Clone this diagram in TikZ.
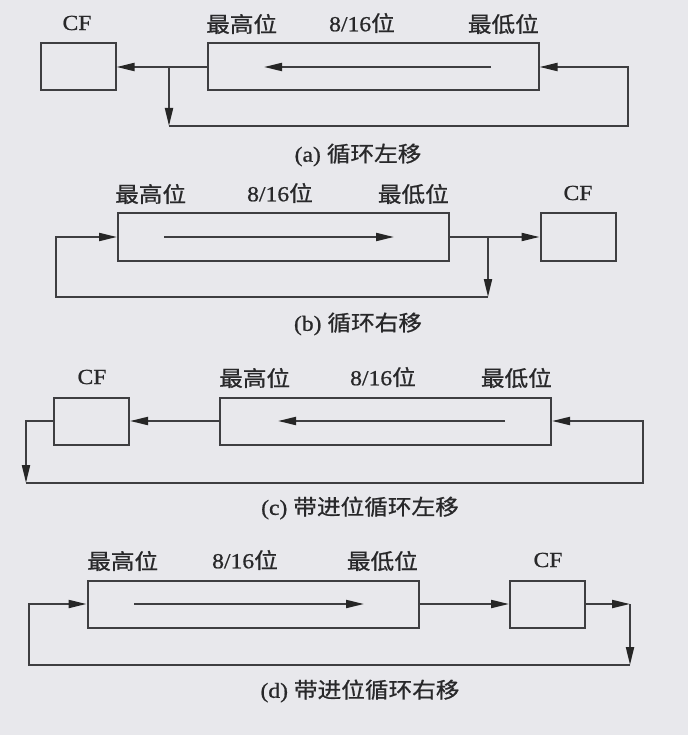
\documentclass[tikz,border=0pt]{standalone}
\usepackage{fontspec}
\setmainfont{Liberation Serif}[FakeStretch=1.1,FakeBold=0.8]
\newfontfamily\cjk{Noto Sans CJK SC}[FakeStretch=1.1,FakeBold=0.8]
\usetikzlibrary{arrows.meta}
\definecolor{bg}{RGB}{232,232,236}
\definecolor{ln}{RGB}{62,62,65}
\definecolor{tx}{RGB}{40,40,42}
\begin{document}
\begin{tikzpicture}[x=1pt,y=-1pt,
  reg/.style={draw=ln,line width=2pt,minimum width=331pt,minimum height=47pt,inner sep=0pt},
  cfbox/.style={draw=ln,line width=2pt,minimum width=75pt,minimum height=47pt,inner sep=0pt},
  lbl/.style={text=tx,font=\fontsize{21.5}{23}\selectfont,inner sep=0pt},
  captext/.style={text=tx,font=\fontsize{21.5}{23}\selectfont,inner sep=0pt},
  wire/.style={draw=ln,line width=2pt},
  arr/.style={wire,-{Triangle[length=18pt,width=8pt,color=black!85]}}]
\fill[bg] (0,0) rectangle (688,735);
\useasboundingbox (0,0) rectangle (688,735);

% ---------- (a)
\node[reg] (ma) at (373,67) {};
\node[cfbox] (cfa) at (78,67) {};
\node[lbl] (la1) at (77,23) {CF};
\node[lbl,anchor=west] (la2) at (206,24) {\cjk 最高位};
\node[lbl] (la3) at (362,23) {8/16{\cjk 位}};
\node[lbl,anchor=east] (la4) at (539,24) {\cjk 最低位};
\node[captext] (capa) at (358,155) {(a) {\cjk 循环左移}};
\coordinate (ia1) at (491,67); \coordinate (ia2) at (264,67);
\draw[arr] (ia1) -- (ia2);
\coordinate (ba) at (169,67); \coordinate (ba2) at (169,126); \coordinate (ra) at (628,126);
\draw[arr] (ma.west) -- (cfa.east);
\draw[arr] (ba) -- (ba2);
\draw[arr] (ba2) -- (ra) |- (ma.east);

% ---------- (b)
\node[reg] (mb) at (283.5,237) {};
\node[cfbox] (cfb) at (578,237) {};
\node[lbl] (lb1) at (578,193) {CF};
\node[lbl,anchor=west] (lb2) at (115,194) {\cjk 最高位};
\node[lbl] (lb3) at (280,193) {8/16{\cjk 位}};
\node[lbl,anchor=east] (lb4) at (449,194) {\cjk 最低位};
\node[captext] (capb) at (358,324) {(b) {\cjk 循环右移}};
\coordinate (ib1) at (164,237); \coordinate (ib2) at (394,237);
\draw[arr] (ib1) -- (ib2);
\coordinate (bb) at (488,237); \coordinate (bb2) at (488,297); \coordinate (lb) at (56,297);
\draw[arr] (mb.east) -- (cfb.west);
\draw[arr] (bb) -- (bb2);
\draw[arr] (bb2) -- (lb) |- (mb.west);

% ---------- (c)
\node[reg] (mc) at (385.5,421) {};
\node[cfbox] (cfc) at (91.5,421) {};
\node[lbl] (lc1) at (92,377) {CF};
\node[lbl,anchor=west] (lc2) at (219,378) {\cjk 最高位};
\node[lbl] (lc3) at (383,377) {8/16{\cjk 位}};
\node[lbl,anchor=east] (lc4) at (552,378) {\cjk 最低位};
\node[captext] (capc) at (360,508) {(c) {\cjk 带进位循环左移}};
\coordinate (ic1) at (505,421); \coordinate (ic2) at (278,421);
\draw[arr] (ic1) -- (ic2);
\coordinate (cc1) at (26,421); \coordinate (cc2) at (26,483); \coordinate (cc3) at (643,483);
\draw[arr] (mc.west) -- (cfc.east);
\draw[arr] (cfc.west) -- (cc1) -- (cc2);
\draw[arr] (cc2) -- (cc3) |- (mc.east);

% ---------- (d)
\node[reg] (md) at (253,604) {};
\node[cfbox] (cfd) at (547.5,604) {};
\node[lbl] (ld1) at (548,560) {CF};
\node[lbl,anchor=west] (ld2) at (87,561) {\cjk 最高位};
\node[lbl] (ld3) at (245,560) {8/16{\cjk 位}};
\node[lbl,anchor=east] (ld4) at (418,561) {\cjk 最低位};
\node[captext] (capd) at (360,691) {(d) {\cjk 带进位循环右移}};
\coordinate (id1) at (134,604); \coordinate (id2) at (364,604);
\draw[arr] (id1) -- (id2);
\coordinate (dd1) at (630,604); \coordinate (dd2) at (630,665); \coordinate (dd3) at (29,665);
\draw[arr] (md.east) -- (cfd.west);
\draw[arr] (cfd.east) -- (dd1);
\draw[arr] (dd1) -- (dd2);
\draw[arr] (dd2) -- (dd3) |- (md.west);
\end{tikzpicture}
\end{document}
